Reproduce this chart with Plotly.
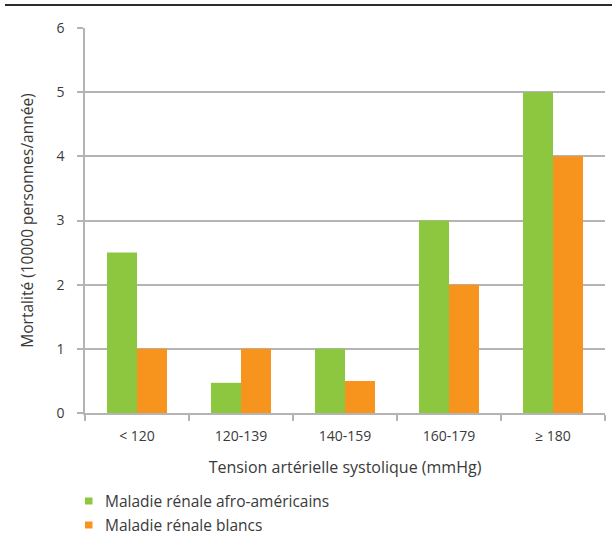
import plotly.graph_objects as go

categories = ["< 120", "120-139", "140-159", "160-179", "≥ 180"]
afro_americains = [2.5, 0.47, 1.0, 3.0, 5.0]
blancs = [1.0, 1.0, 0.5, 2.0, 4.0]
y_ticks = [0, 1, 2, 3, 4, 5, 6]
series_names = ["Maladie rénale afro-américains", "Maladie rénale blancs"]

GREEN = "#8DC63F"
ORANGE = "#F7941D"
TEXT = "#3a3a3a"
GRID = "#b4b4b4"
FONT = "Open Sans, Lato, sans-serif"

# plot area geometry (pixels)
L, R, T, B = 85, 7, 28, 124
W, H = 612, 537
PW, PH = W - L - R, H - T - B


def px_x(x):
    return (x - L) / PW


def px_y(y):
    return (H - B - y) / PH


fig = go.Figure()
fig.add_trace(go.Bar(x=categories, y=afro_americains, name=series_names[0], showlegend=False,
                     marker=dict(color=GREEN, line=dict(width=0))))
fig.add_trace(go.Bar(x=categories, y=blancs, name=series_names[1], showlegend=False,
                     marker=dict(color=ORANGE, line=dict(width=0))))

fig.update_layout(
    width=W, height=H,
    margin=dict(l=L, r=R, t=T, b=B),
    paper_bgcolor="white", plot_bgcolor="white",
    barmode="group", bargap=0.423, bargroupgap=0,
    font=dict(family=FONT, size=14, color=TEXT),
    showlegend=False,
    xaxis=dict(
        type="category", tickson="boundaries", ticks="outside", ticklen=6,
        tickcolor=GRID, tickwidth=1.5, showline=True, linecolor=GRID, linewidth=1.5,
        showgrid=False, tickfont=dict(size=14, color=TEXT), automargin=False,
        ticklabelstandoff=9,
        title=dict(text="Tension artérielle systolique (mmHg)", font=dict(size=16, color=TEXT), standoff=18),
    ),
    yaxis=dict(
        range=[0, 6], tickvals=y_ticks, ticks="outside", ticklen=6, tickcolor=GRID, tickwidth=1.5,
        showline=True, linecolor=GRID, linewidth=1.5, showgrid=True, gridcolor=GRID, gridwidth=1.5,
        zeroline=False, tickfont=dict(size=14, color=TEXT), ticklabelstandoff=10, automargin=False,
        title=dict(text="Mortalité (10000 personnes/année)", font=dict(size=15.5, color=TEXT), standoff=19),
    ),
)

# top rule
fig.add_shape(type="line", xref="paper", yref="paper",
              x0=px_x(5), x1=px_x(612), y0=px_y(5), y1=px_y(5),
              line=dict(color="#2b2b2b", width=2))

# manual legend (keeps the plot area fixed)
legend_colors = [GREEN, ORANGE]
legend_rows = [501, 525]
for name, color, yc in zip(series_names, legend_colors, legend_rows):
    fig.add_shape(type="rect", xref="paper", yref="paper",
                  x0=px_x(85), x1=px_x(92.5), y0=px_y(yc - 3.5), y1=px_y(yc + 3.5),
                  fillcolor=color, line=dict(width=0))
    fig.add_annotation(xref="paper", yref="paper", x=px_x(103), y=px_y(yc),
                       xanchor="left", yanchor="middle", showarrow=False,
                       text=name, font=dict(size=15.5, color=TEXT))

fig.write_html("out.html", config={"displayModeBar": False},
               post_script="document.body.style.margin='0';document.body.style.padding='0';")
